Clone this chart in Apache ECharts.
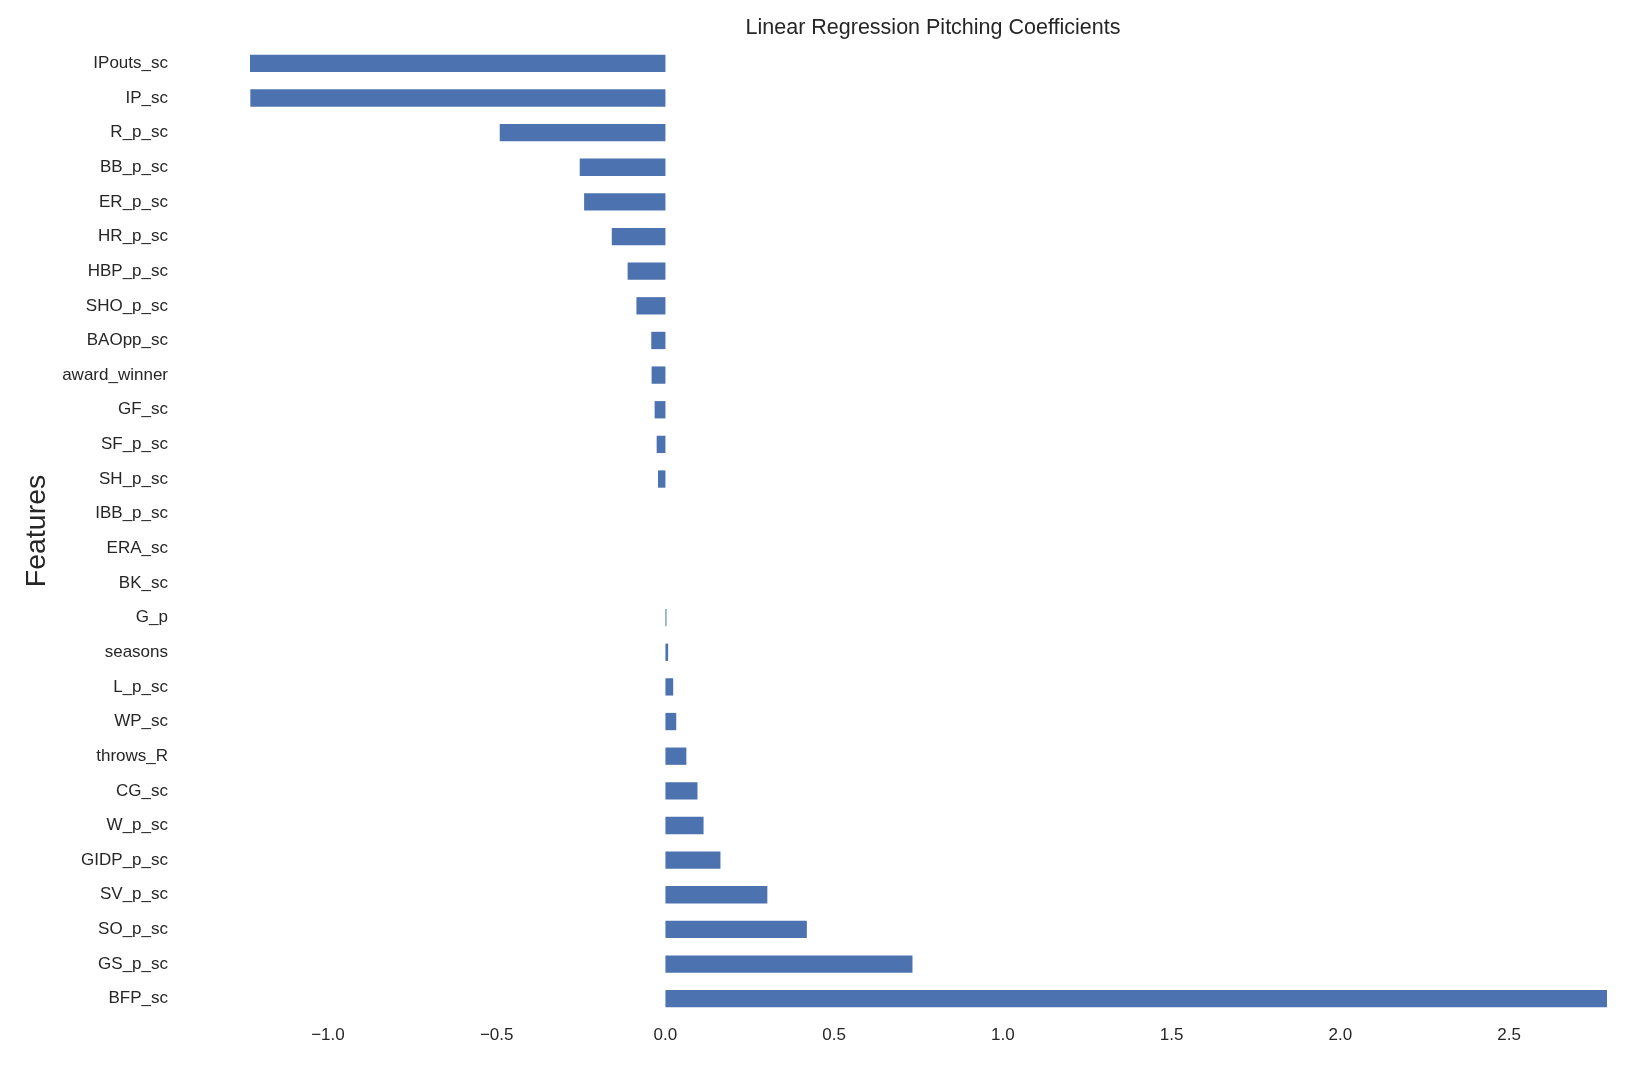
<!DOCTYPE html>
<html>
<head>
<meta charset="utf-8">
<title>Linear Regression Pitching Coefficients</title>
<script src="https://cdn.jsdelivr.net/npm/echarts@6/dist/echarts.min.js"></script>
<style>
    html, body { margin: 0; padding: 0; background: #fff; }
    #main { width: 1650px; height: 1068px; }
</style>
</head>
<body>
<div id="main"></div>
<script>
// features, top to bottom
var features = ['IPouts_sc', 'IP_sc', 'R_p_sc', 'BB_p_sc', 'ER_p_sc', 'HR_p_sc', 'HBP_p_sc',
    'SHO_p_sc', 'BAOpp_sc', 'award_winner', 'GF_sc', 'SF_p_sc', 'SH_p_sc', 'IBB_p_sc',
    'ERA_sc', 'BK_sc', 'G_p', 'seasons', 'L_p_sc', 'WP_sc', 'throws_R', 'CG_sc', 'W_p_sc',
    'GIDP_p_sc', 'SV_p_sc', 'SO_p_sc', 'GS_p_sc', 'BFP_sc'];
var coefs = [-1.231, -1.230, -0.491, -0.254, -0.241, -0.159, -0.112,
    -0.086, -0.042, -0.041, -0.032, -0.026, -0.022, 0,
    0, 0, 0.003, 0.008, 0.023, 0.032, 0.062, 0.095, 0.113,
    0.163, 0.302, 0.419, 0.732, 2.79];
var xTicks = [-1.0, -0.5, 0.0, 0.5, 1.0, 1.5, 2.0, 2.5];

var textColor = '#262626';
var myChart = echarts.init(document.getElementById('main'));
var option = {
    backgroundColor: '#ffffff',
    animation: false,
    title: {
        text: 'Linear Regression Pitching Coefficients',
        left: 928,
        top: 12,
        textAlign: 'center',
        textStyle: {
            fontFamily: 'Liberation Sans, Arial, sans-serif',
            fontSize: 21.5,
            fontWeight: 'normal',
            color: textColor
        }
    },
    grid: {
        left: 250,
        right: 43,
        top: 46,
        bottom: 52
    },
    xAxis: {
        type: 'value',
        min: -1.231,
        max: 2.79,
        axisLine: { show: false },
        axisTick: { show: false },
        splitLine: { show: false },
        axisLabel: {
            customValues: xTicks,
            margin: 11,
            fontFamily: 'Liberation Sans, Arial, sans-serif',
            fontSize: 17,
            color: textColor,
            formatter: function (v) {
                return (v < 0 ? '\u2212' : '') + Math.abs(v).toFixed(1);
            }
        }
    },
    yAxis: {
        type: 'category',
        inverse: true,
        data: features,
        name: 'Features',
        nameLocation: 'middle',
        nameRotate: 90,
        nameGap: 198,
        nameTextStyle: {
            fontFamily: 'Liberation Sans, Arial, sans-serif',
            fontSize: 28.5,
            color: textColor
        },
        axisLine: { show: false },
        axisTick: { show: false },
        splitLine: { show: false },
        axisLabel: {
            margin: 82,
            fontFamily: 'Liberation Sans, Arial, sans-serif',
            fontSize: 17,
            color: textColor
        }
    },
    series: [{
        type: 'bar',
        data: coefs,
        barWidth: '50%',
        itemStyle: { color: '#4c72b0' }
    }]
};
myChart.setOption(option);
</script>
</body>
</html>
